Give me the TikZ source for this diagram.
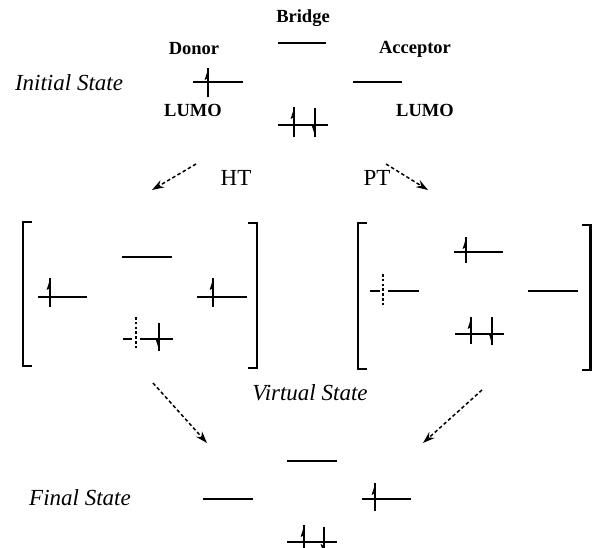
\documentclass[tikz,border=0pt]{standalone}
\usepackage{fontspec}
\setmainfont{Liberation Serif}
\usetikzlibrary{arrows.meta}

% Level line, electron with a half head, hole, bracket
\tikzset{
  lvl/.style={line width=2pt},
  spin/.style={line width=1.8pt},
  hole/.style={line width=1.8pt, dash pattern=on 2.6pt off 2.2pt},
  brk/.style={line width=2.3pt},
  trans/.style={line width=1.5pt, dash pattern=on 3.5pt off 2.5pt,
    -{Stealth[length=12pt,width=8pt]}},
  lab/.style={font=\fontsize{18.5}{22}\selectfont\bfseries, inner sep=0pt},
  stt/.style={font=\fontsize{23}{27}\selectfont\itshape, inner sep=0pt},
  arl/.style={font=\fontsize{23}{27}\selectfont, inner sep=0pt}
}
% spin up: x, top, bottom
\newcommand\spinup[3]{%
  \draw[spin] (#1,#2) -- (#1,#3);
  \fill (#1+0.4,#2) -- (#1-3.4,#2+12) -- (#1+0.4,#2+10) -- cycle;}
% spin down: x, top, bottom
\newcommand\spindown[3]{%
  \draw[spin] (#1,#2) -- (#1,#3);
  \fill (#1+0.4,#3) -- (#1-3.4,#3-12) -- (#1+0.4,#3-10) -- cycle;}

\begin{document}
\begin{tikzpicture}[x=1pt,y=-1pt]
\useasboundingbox (0,0) rectangle (592,548);

% ---------- initial state ----------
\node[lab] (tbridge) at (303,18) {Bridge};
\node[lab] (tdonor) at (194,49) {Donor};
\node[lab] (tacc) at (415,49) {Acceptor};
\node[lab] (tlumo1) at (193,110) {LUMO};
\node[lab] (tlumo2) at (425,110) {LUMO};
\node[stt] (tinit) at (69,83) {Initial State};

\draw[lvl] (278,43) -- (326,43);
\draw[lvl] (193,82) -- (243,82);
\spinup{208}{68}{97}
\draw[lvl] (353,82) -- (402,82);
\draw[lvl] (278,125) -- (328,125);
\spinup{294}{107}{137}
\spindown{315}{108}{137}

% ---------- transfer arrows ----------
\coordinate (ht0) at (196,164);
\coordinate (ht1) at (152,190);
\coordinate (pt0) at (386,164);
\coordinate (pt1) at (428,190);
\draw[trans] (ht0) -- (ht1);
\draw[trans] (pt0) -- (pt1);
\node[arl] (tht) at (236,178) {HT};
\node[arl] (tpt) at (377,178) {PT};

% ---------- virtual state (HT) ----------
\draw[brk] (32,222) -- (23,222) -- (23,366) -- (32,366);
\draw[brk] (248,223) -- (257,223) -- (257,368) -- (248,368);
\draw[lvl] (122,257) -- (172,257);
\draw[lvl] (38,297) -- (87,297);
\spinup{50}{278}{307}
\draw[lvl] (197,297) -- (247,297);
\spinup{213}{278}{307}
\draw[lvl] (123,339) -- (132,339);
\draw[lvl] (140,339) -- (173,339);
\draw[hole] (136,317) -- (136,348);
\spindown{159}{323}{351}

% ---------- virtual state (PT) ----------
\draw[brk] (367,223) -- (358,223) -- (358,369) -- (367,369);
\draw[brk] (582,225) -- (590.5,225) -- (590.5,370) -- (582,370);
\draw[lvl] (454,252) -- (503,252);
\spinup{466}{237}{263}
\draw[lvl] (370,291) -- (380,291);
\draw[lvl] (388,291) -- (419,291);
\draw[hole] (383,274) -- (383,307);
\draw[lvl] (528,291) -- (578,291);
\draw[lvl] (455,334) -- (504,334);
\spinup{471}{317}{344}
\spindown{492}{317}{345}

\node[stt] (tvirt) at (310,393) {Virtual State};

\coordinate (vh0) at (153,383);
\coordinate (vh1) at (207,443);
\coordinate (vp0) at (482,390);
\coordinate (vp1) at (423,443);
\draw[trans] (vh0) -- (vh1);
\draw[trans] (vp0) -- (vp1);

% ---------- final state ----------
\node[stt] (tfinal) at (80,498) {Final State};
\draw[lvl] (287,461) -- (337,461);
\draw[lvl] (203,499) -- (253,499);
\draw[lvl] (362,499) -- (411,499);
\spinup{375}{483}{511}
\draw[lvl] (287,542) -- (337,542);
\spinup{304}{525}{556}
\spindown{324}{527}{556}
\end{tikzpicture}
\end{document}
